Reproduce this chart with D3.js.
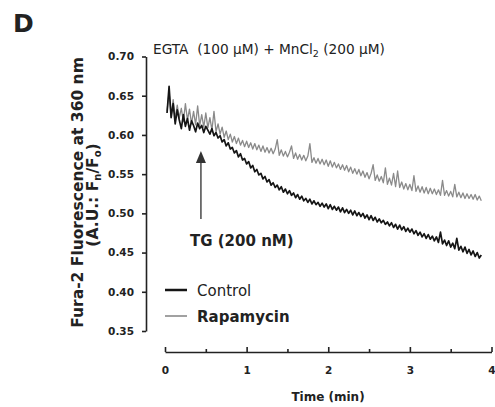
<!DOCTYPE html>
<html>
<head>
<meta charset="utf-8">
<script src="https://cdn.jsdelivr.net/npm/d3@7"></script>
<style>
body{margin:0;background:#fff;}
text{font-family:"DejaVu Sans",sans-serif;fill:#222;}
</style>
</head>
<body>
<div id="chart-area"></div>
<script>
// time points (min)
let times=[
	0.025,0.05,0.075,0.1,0.125,0.15,0.175,0.2,0.225,0.25,0.275,0.3,0.325,0.35,0.375,0.4,0.425,0.45,0.475,0.5,
	0.525,0.55,0.575,0.6,0.625,0.65,0.675,0.7,0.725,0.75,0.775,0.8,0.825,0.85,0.875,0.9,0.925,0.95,0.975,1.0,
	1.025,1.05,1.075,1.1,1.125,1.15,1.175,1.2,1.225,1.25,1.275,1.3,1.325,1.35,1.375,1.4,1.425,1.45,1.475,1.5,
	1.525,1.55,1.575,1.6,1.625,1.65,1.675,1.7,1.725,1.75,1.775,1.8,1.825,1.85,1.875,1.9,1.925,1.95,1.975,2.0,
	2.025,2.05,2.075,2.1,2.125,2.15,2.175,2.2,2.225,2.25,2.275,2.3,2.325,2.35,2.375,2.4,2.425,2.45,2.475,2.5,
	2.525,2.55,2.575,2.6,2.625,2.65,2.675,2.7,2.725,2.75,2.775,2.8,2.825,2.85,2.875,2.9,2.925,2.95,2.975,3.0,
	3.025,3.05,3.075,3.1,3.125,3.15,3.175,3.2,3.225,3.25,3.275,3.3,3.325,3.35,3.375,3.4,3.425,3.45,3.475,3.5,
	3.525,3.55,3.575,3.6,3.625,3.65,3.675,3.7,3.725,3.75,3.775,3.8,3.825,3.85,3.875];

let control=[
	0.628,0.662,0.622,0.640,0.614,0.632,0.619,0.608,0.626,0.611,0.621,0.606,0.618,0.612,0.604,0.615,0.608,0.612,0.603,0.611,
	0.606,0.601,0.608,0.599,0.603,0.596,0.599,0.591,0.594,0.586,0.590,0.582,0.584,0.577,0.580,0.572,0.576,0.568,0.570,0.563,
	0.566,0.558,0.561,0.553,0.556,0.549,0.551,0.544,0.547,0.540,0.543,0.536,0.539,0.533,0.536,0.530,0.534,0.527,0.531,0.525,
	0.529,0.523,0.526,0.520,0.524,0.518,0.522,0.516,0.519,0.514,0.518,0.512,0.516,0.511,0.514,0.509,0.513,0.508,0.512,0.506,
	0.511,0.505,0.509,0.504,0.508,0.502,0.507,0.501,0.505,0.500,0.504,0.498,0.503,0.497,0.501,0.496,0.500,0.494,0.498,0.492,
	0.497,0.491,0.495,0.489,0.493,0.488,0.491,0.486,0.489,0.484,0.488,0.482,0.486,0.480,0.485,0.479,0.483,0.477,0.481,0.476,
	0.480,0.474,0.478,0.472,0.476,0.470,0.474,0.468,0.473,0.467,0.471,0.465,0.470,0.463,0.476,0.461,0.466,0.459,0.465,0.457,
	0.462,0.455,0.468,0.453,0.458,0.451,0.457,0.449,0.454,0.447,0.452,0.445,0.450,0.443,0.447];

let rapamycin=[
	0.630,0.655,0.624,0.645,0.621,0.638,0.622,0.634,0.617,0.640,0.619,0.633,0.614,0.630,0.613,0.637,0.612,0.626,0.610,0.628,
	0.609,0.622,0.606,0.630,0.604,0.614,0.601,0.610,0.597,0.605,0.594,0.601,0.591,0.598,0.589,0.596,0.587,0.593,0.585,0.592,
	0.584,0.590,0.582,0.589,0.581,0.587,0.579,0.586,0.578,0.584,0.577,0.583,0.576,0.582,0.594,0.574,0.581,0.573,0.579,0.572,
	0.578,0.586,0.570,0.577,0.569,0.575,0.568,0.574,0.567,0.573,0.589,0.565,0.571,0.564,0.570,0.563,0.569,0.562,0.568,0.560,
	0.567,0.559,0.565,0.558,0.563,0.556,0.562,0.555,0.561,0.553,0.559,0.551,0.557,0.550,0.556,0.548,0.554,0.546,0.552,0.544,
	0.551,0.562,0.542,0.549,0.541,0.547,0.539,0.558,0.537,0.545,0.536,0.551,0.534,0.554,0.533,0.540,0.531,0.538,0.530,0.537,
	0.529,0.548,0.528,0.535,0.527,0.534,0.526,0.533,0.525,0.532,0.525,0.531,0.524,0.530,0.523,0.542,0.523,0.529,0.522,0.528,
	0.521,0.537,0.521,0.527,0.520,0.526,0.519,0.525,0.519,0.524,0.518,0.524,0.517,0.522,0.516];

let yTicks=[0.35,0.40,0.45,0.50,0.55,0.60,0.65,0.70];
let xTicks=[0,1,2,3,4];
let xMinorTicks=[0.5,1.5,2.5,3.5];
let series=[
	{name:"Control",values:control,color:"#151515",width:1.7,weight:"normal"},
	{name:"Rapamycin",values:rapamycin,color:"#8a8a8a",width:1.3,weight:"bold"}
];

let svg=d3.select("#chart-area").append('svg')
	.attr('width',495)
	.attr('height',407);

//---------SCALES--------------
let x=d3.scaleLinear()
	.domain([0,4])
	.range([165,491.5]);

let y=d3.scaleLinear()
	.domain([0.35,0.70])
	.range([331,56.5]);

//-------AXES------------------
let yAxisGroup=svg.append('g')
	.attr('transform','translate(146,0)')
	.call(d3.axisLeft(y).tickValues(yTicks).tickFormat(d3.format('.2f')).tickSize(4).tickSizeOuter(0).tickPadding(8));

let xAxisGroup=svg.append('g')
	.attr('transform','translate(0,352)')
	.call(d3.axisBottom(x).tickValues(xTicks).tickFormat(d3.format('d')).tickSize(-5).tickSizeOuter(0).tickPadding(15));

svg.append('g')
	.attr('transform','translate(0,352)')
	.call(d3.axisBottom(x).tickValues(xMinorTicks).tickFormat('').tickSize(-3).tickSizeOuter(0))
	.select('.domain').remove();

svg.selectAll('.domain,.tick line')
	.attr('stroke','#222')
	.attr('stroke-width',1.6);

[yAxisGroup,xAxisGroup].forEach(function(a){
	a.selectAll('text')
		.attr('font-family','"DejaVu Sans",sans-serif')
		.attr('font-size','10.5px')
		.attr('font-weight','bold')
		.attr('fill','#333');
});

//--------TRACES--------------
let line=d3.line()
	.x((d,i)=>x(times[i]))
	.y(d=>y(d));

// gray first so black sits on top
series.slice().reverse().forEach(function(s){
	svg.append('path')
		.datum(s.values)
		.attr('fill','none')
		.attr('stroke',s.color)
		.attr('stroke-width',s.width)
		.attr('stroke-linejoin','round')
		.attr('d',line);
});

//------LABELS----------------
svg.append('text')
	.attr('x',13)
	.attr('y',32)
	.attr('font-size','25px')
	.attr('font-weight','bold')
	.attr('fill','#111')
	.text('D');

let title=svg.append('text')
	.attr('x',153)
	.attr('y',54)
	.attr('font-size','13.7px')
	.attr('fill','#333');
title.append('tspan').text('EGTA\u00a0\u00a0(100 \u03bcM) + MnCl');
title.append('tspan').attr('font-size','9.5px').attr('dy',3).text('2');
title.append('tspan').attr('dy',-3).text(' (200 \u03bcM)');

let yLabel=svg.append('g')
	.attr('transform','translate(83,192.5) rotate(-90)');
yLabel.append('text')
	.attr('text-anchor','middle')
	.attr('font-size','15.5px')
	.attr('font-weight','bold')
	.text('Fura-2 Fluorescence at 360 nm');

let yLabel2=svg.append('text')
	.attr('transform','translate(98,195) rotate(-90)')
	.attr('text-anchor','middle')
	.attr('font-size','15.5px')
	.attr('font-weight','bold');
yLabel2.append('tspan').text('(A.U.: F');
yLabel2.append('tspan').attr('font-size','10px').attr('dy',3).text('n');
yLabel2.append('tspan').attr('dy',-3).text('/F');
yLabel2.append('tspan').attr('font-size','10px').attr('dy',3).text('o');
yLabel2.append('tspan').attr('dy',-3).text(')');

svg.append('text')
	.attr('x',328)
	.attr('y',401)
	.attr('text-anchor','middle')
	.attr('font-size','12px')
	.attr('font-weight','bold')
	.text('Time (min)');

//-------ARROW-----------------
let arrowX=x(0.44);
svg.append('line')
	.attr('x1',arrowX).attr('x2',arrowX)
	.attr('y1',160).attr('y2',219)
	.attr('stroke','#555')
	.attr('stroke-width',1.6);
svg.append('path')
	.attr('d',`M${arrowX},151L${arrowX-5},163L${arrowX+5},163Z`)
	.attr('fill','#333');
svg.append('text')
	.attr('x',190)
	.attr('y',246)
	.attr('font-size','15px')
	.attr('font-weight','bold')
	.text('TG (200 nM)');

//--------LEGEND--------------
let legend=svg.append('g')
	.attr('transform','translate(165,290)');

series.forEach(function(s,index){
	let legendRow=legend.append('g')
		.attr('transform','translate(0,'+index*26+')');
	legendRow.append('line')
		.attr('x1',0).attr('x2',22)
		.attr('stroke',s.color)
		.attr('stroke-width',index==0?2.5:1.6);
	legendRow.append('text')
		.attr('x',32)
		.attr('y',5.5)
		.attr('font-size','15px')
		.attr('font-weight',s.weight)
		.attr('fill','#333')
		.text(s.name);
});
</script>
</body>
</html>
